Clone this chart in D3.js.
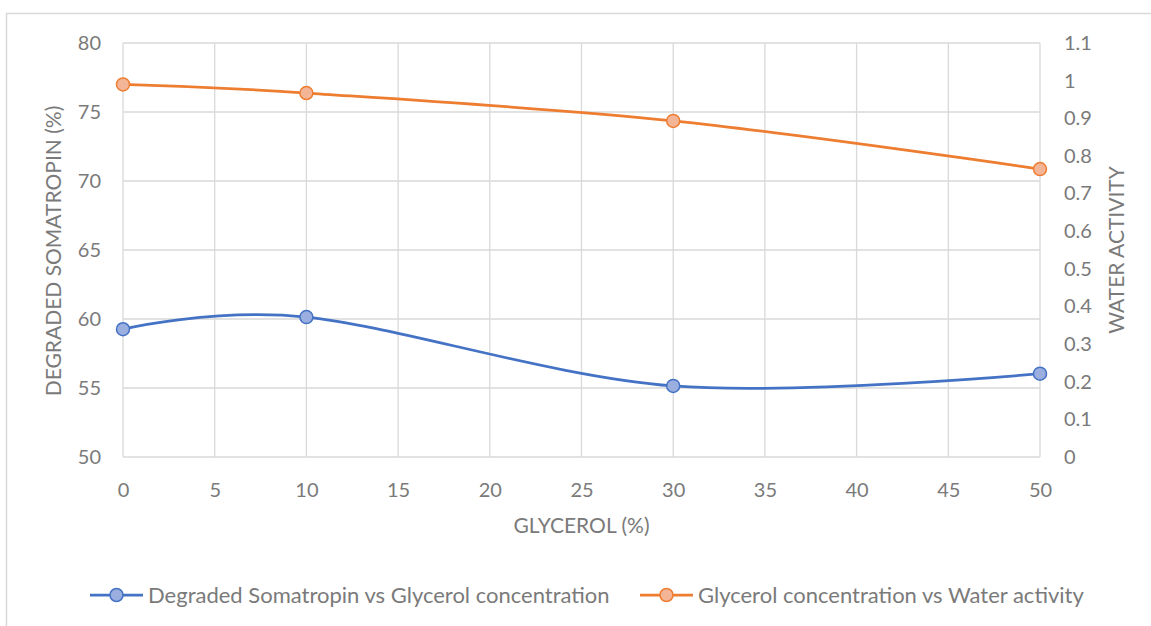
<!DOCTYPE html>
<html>
<head>
<meta charset="utf-8">
<script src="https://cdn.jsdelivr.net/npm/d3@7"></script>
<style>
  html, body { margin: 0; padding: 0; background: #fff; }
  svg text { font-family: Lato, "Open Sans", sans-serif; fill: #7a7a7a; }
</style>
</head>
<body>
<svg id="chart" width="1151" height="626"></svg>
<script>
// Glycerol concentration (%) on the shared x axis
const glycerol = [0, 10, 30, 50];
// Degraded somatropin (%) — left axis
const degraded = [59.26, 60.14, 55.15, 56.04];
// Water activity — right axis
const waterActivity = [0.990, 0.967, 0.893, 0.765];

const xTicks = [0, 5, 10, 15, 20, 25, 30, 35, 40, 45, 50];
const leftTicks = [50, 55, 60, 65, 70, 75, 80];
const rightTicks = [0, 0.1, 0.2, 0.3, 0.4, 0.5, 0.6, 0.7, 0.8, 0.9, 1, 1.1];

const seriesNames = [
  "Degraded Somatropin vs Glycerol concentration",
  "Glycerol concentration vs Water activity"
];

const FONT = 'Lato, "Open Sans", sans-serif';
const TICK_FS = 20, TITLE_FS = 21, LEGEND_FS = 22;

const svg = d3.select("#chart");
const W = 1151, H = 626;
const plot = { left: 123, right: 1040, top: 43, bottom: 457 };

// chart frame
svg.append("path")
  .attr("d", `M6.5,${H} V13.5 H${W}`)
  .attr("fill", "none").attr("stroke", "#d9d9d9").attr("stroke-width", 1.5);

const x = d3.scaleLinear().domain([0, 50]).range([plot.left, plot.right]);
const yL = d3.scaleLinear().domain([50, 80]).range([plot.bottom, plot.top]);
const yR = d3.scaleLinear().domain([0, 1.1]).range([plot.bottom, plot.top]);

// gridlines
const grid = svg.append("g").attr("stroke", "#d9d9d9").attr("stroke-width", 1.3);
grid.selectAll("line.h").data(leftTicks).join("line")
  .attr("x1", plot.left).attr("x2", plot.right)
  .attr("y1", d => yL(d)).attr("y2", d => yL(d));
grid.selectAll("line.v").data(xTicks).join("line")
  .attr("y1", plot.top).attr("y2", plot.bottom)
  .attr("x1", d => x(d)).attr("x2", d => x(d));

// axes (labels only, Excel-style)
function styleAxis(g) {
  g.select(".domain").remove();
  g.selectAll(".tick line").remove();
  g.selectAll(".tick text").attr("font-size", TICK_FS).attr("fill", "#7a7a7a")
    .style("font-family", FONT);
}
svg.append("g").attr("transform", `translate(0,${plot.bottom})`)
  .call(d3.axisBottom(x).tickValues(xTicks).tickSize(0).tickPadding(26).tickFormat(d3.format("d")))
  .call(styleAxis);
svg.append("g").attr("transform", `translate(${plot.left},0)`)
  .call(d3.axisLeft(yL).tickValues(leftTicks).tickSize(0).tickPadding(22).tickFormat(d3.format("d")))
  .call(styleAxis);
svg.append("g").attr("transform", `translate(${plot.right},0)`)
  .call(d3.axisRight(yR).tickValues(rightTicks).tickSize(0).tickPadding(24).tickFormat(d => d3.format("~g")(+d.toFixed(1))))
  .call(styleAxis);

// axis titles
svg.append("text").attr("x", (plot.left + plot.right) / 2).attr("y", 533)
  .attr("text-anchor", "middle").attr("font-size", TITLE_FS).text("GLYCEROL (%)");
svg.append("text").attr("transform", `translate(61,${(plot.top + plot.bottom) / 2 + 1}) rotate(-90)`)
  .attr("text-anchor", "middle").attr("font-size", TITLE_FS).text("DEGRADED SOMATROPIN (%)");
svg.append("text").attr("transform", `translate(1124,${(plot.top + plot.bottom) / 2}) rotate(-90)`)
  .attr("text-anchor", "middle").attr("font-size", TITLE_FS).text("WATER ACTIVITY");

const colors = [
  { line: "#4472c4", fill: "#9aaee0" },
  { line: "#ed7d31", fill: "#f4b496" }
];

const curve = d3.curveCardinal.tension(0);
const series = [
  glycerol.map((g, i) => [x(g), yL(degraded[i])]),
  glycerol.map((g, i) => [x(g), yR(waterActivity[i])])
];

series.forEach((pts, k) => {
  svg.append("path")
    .attr("d", d3.line().curve(curve)(pts))
    .attr("fill", "none").attr("stroke", colors[k].line).attr("stroke-width", 2.75);
  svg.append("g").selectAll("circle").data(pts).join("circle")
    .attr("cx", d => d[0]).attr("cy", d => d[1]).attr("r", 6.5)
    .attr("fill", colors[k].fill).attr("stroke", colors[k].line).attr("stroke-width", 1.5);
});

// legend
const legendY = 595;
const legendX = [90, 640];
seriesNames.forEach((name, k) => {
  const g = svg.append("g").attr("transform", `translate(${legendX[k]},${legendY})`);
  g.append("line").attr("x1", 0).attr("x2", 53).attr("y1", 0).attr("y2", 0)
    .attr("stroke", colors[k].line).attr("stroke-width", 2.75);
  g.append("circle").attr("cx", 26.5).attr("cy", 0).attr("r", 6.5)
    .attr("fill", colors[k].fill).attr("stroke", colors[k].line).attr("stroke-width", 1.5);
  g.append("text").attr("x", 58).attr("y", 7.5).attr("font-size", LEGEND_FS).text(name);
});
</script>
</body>
</html>
